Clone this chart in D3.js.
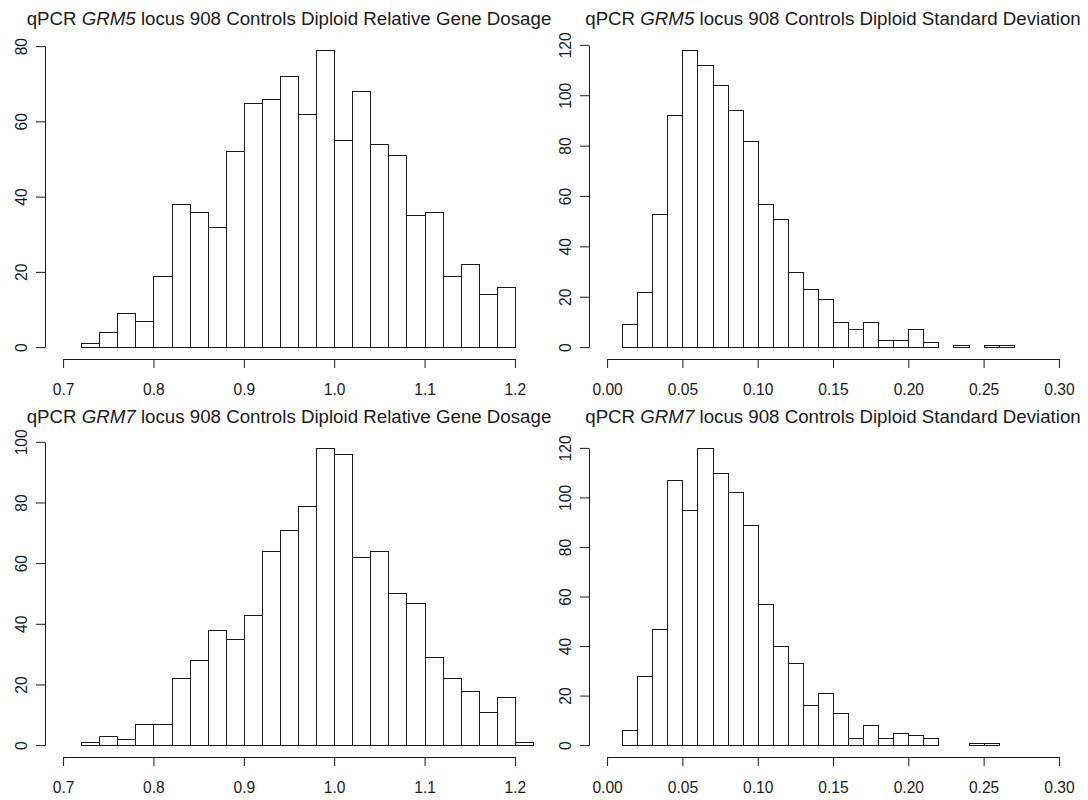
<!DOCTYPE html>
<html>
<head>
<meta charset="utf-8">
<script src="https://cdn.jsdelivr.net/npm/d3@7"></script>
<style>
  body { margin: 0; background: #fff; }
  svg { display: block; font-family: "Liberation Sans", Arial, sans-serif; }
  .tick text { fill: #1a1a1a; }
</style>
</head>
<body>
<script>
// histogram bin breaks (dosage panels share one set, SD panels another)
var dosageBreaks = [0.72, 0.74, 0.76, 0.78, 0.80, 0.82, 0.84, 0.86, 0.88, 0.90, 0.92, 0.94, 0.96,
  0.98, 1.00, 1.02, 1.04, 1.06, 1.08, 1.10, 1.12, 1.14, 1.16, 1.18, 1.20, 1.22];
var sdBreaks = [0.01, 0.02, 0.03, 0.04, 0.05, 0.06, 0.07, 0.08, 0.09, 0.10, 0.11, 0.12, 0.13, 0.14,
  0.15, 0.16, 0.17, 0.18, 0.19, 0.20, 0.21, 0.22, 0.23, 0.24, 0.25, 0.26, 0.27, 0.28, 0.29, 0.30,
  0.31, 0.32];

// counts
var grm5Dosage = [1, 4, 9, 7, 19, 38, 36, 32, 52, 65, 66, 72, 62, 79, 55, 68, 54, 51, 35, 36, 19, 22, 14, 16, 0];
var grm7Dosage = [1, 3, 2, 7, 7, 22, 28, 38, 35, 43, 64, 71, 79, 98, 96, 62, 64, 50, 47, 29, 22, 18, 11, 16, 1];
var grm5SD = [9, 22, 53, 92, 118, 112, 104, 94, 82, 57, 51, 30, 23, 19, 10, 7, 10, 3, 3, 7, 2, 0, 1, 0, 1, 1,
  0, 0, 0, 0, 0];
var grm7SD = [6, 28, 47, 107, 95, 120, 110, 102, 89, 57, 40, 33, 16, 21, 13, 3, 8, 3, 5, 4, 3, 0, 0, 1, 1, 0,
  0, 0, 0, 0, 0];

// tick values / labels
var dosageTicks = [0.7, 0.8, 0.9, 1.0, 1.1, 1.2];
var dosageLabels = ["0.7", "0.8", "0.9", "1.0", "1.1", "1.2"];
var sdTicks = [0, 0.05, 0.10, 0.15, 0.20, 0.25, 0.30];
var sdLabels = ["0.00", "0.05", "0.10", "0.15", "0.20", "0.25", "0.30"];
var yTicks80 = [0, 20, 40, 60, 80];
var yTicks100 = [0, 20, 40, 60, 80, 100];
var yTicks120 = [0, 20, 40, 60, 80, 100, 120];

var panels = [
  { gene: "GRM5", what: "Relative Gene Dosage", breaks: dosageBreaks, counts: grm5Dosage,
    xlim: [0.7, 1.2], xt: dosageTicks, xl: dosageLabels, yt: yTicks80, col: 0, row: 0 },
  { gene: "GRM5", what: "Standard Deviation", breaks: sdBreaks, counts: grm5SD,
    xlim: [0, 0.3], xt: sdTicks, xl: sdLabels, yt: yTicks120, col: 1, row: 0 },
  { gene: "GRM7", what: "Relative Gene Dosage", breaks: dosageBreaks, counts: grm7Dosage,
    xlim: [0.7, 1.2], xt: dosageTicks, xl: dosageLabels, yt: yTicks100, col: 0, row: 1 },
  { gene: "GRM7", what: "Standard Deviation", breaks: sdBreaks, counts: grm7SD,
    xlim: [0, 0.3], xt: sdTicks, xl: sdLabels, yt: yTicks120, col: 1, row: 1 }
];

// page and plot region inside each panel
var W = 1088, H = 800;
var panelW = 544, rowStep = 398;
var plot = { left: 45, right: 533, top: 38, bottom: 359 };
var ink = "#1a1a1a";

var svg = d3.select("body")
  .append("svg")
  .attr("width", W)
  .attr("height", H);

panels.forEach(function (p, i) {
  var g = svg.append("g")
    .attr("transform", "translate(" + p.col * panelW + "," + p.row * rowStep + ")");

  // R style 4% padding on both axes
  var span = p.xlim[1] - p.xlim[0];
  var x = d3.scaleLinear()
    .domain([p.xlim[0] - 0.04 * span, p.xlim[1] + 0.04 * span])
    .range([plot.left, plot.right]);
  var M = d3.max(p.counts);
  var y = d3.scaleLinear()
    .domain([-0.04 * M, 1.04 * M])
    .range([plot.bottom, plot.top]);

  // clip bins that run past the plot region
  g.append("clipPath")
    .attr("id", "clip" + i)
    .append("rect")
    .attr("x", plot.left - 1)
    .attr("y", plot.top - 2)
    .attr("width", plot.right - plot.left + 2)
    .attr("height", plot.bottom - plot.top + 4);

  var bins = p.counts.map(function (c, k) {
    return { x0: p.breaks[k], x1: p.breaks[k + 1], n: c };
  });

  g.append("g")
    .attr("clip-path", "url(#clip" + i + ")")
    .selectAll("rect")
    .data(bins)
    .enter()
    .append("rect")
    .attr("x", function (d) { return Math.round(x(d.x0)) + 0.5; })
    .attr("y", function (d) { return Math.round(y(d.n)) + 0.5; })
    .attr("width", function (d) { return Math.round(x(d.x1)) - Math.round(x(d.x0)); })
    .attr("height", function (d) { return Math.round(y(0)) - Math.round(y(d.n)); })
    .attr("fill", "#fff")
    .attr("stroke", ink)
    .attr("stroke-width", 1);

  // x axis: line only between first and last tick
  var xa = g.append("g")
    .attr("transform", "translate(0," + plot.bottom + ")")
    .call(d3.axisBottom(x)
      .tickValues(p.xt)
      .tickFormat(function (d, k) { return p.xl[k]; })
      .tickSizeInner(9)
      .tickSizeOuter(0)
      .tickPadding(16));
  xa.select(".domain")
    .attr("d", "M" + (Math.round(x(p.xt[0])) + 0.5) + ",0.5H" + (Math.round(x(p.xt[p.xt.length - 1])) + 0.5));
  xa.selectAll(".tick line").attr("stroke", ink);
  xa.select(".domain").attr("stroke", ink);
  xa.selectAll("text").style("font-size", "15.6px").attr("fill", ink);

  // y axis with rotated labels
  var ya = g.append("g")
    .attr("transform", "translate(" + plot.left + ",0)")
    .call(d3.axisLeft(y)
      .tickValues(p.yt)
      .tickSizeInner(9)
      .tickSizeOuter(0));
  ya.select(".domain")
    .attr("d", "M0.5," + (Math.round(y(p.yt[0])) + 0.5) + "V" + (Math.round(y(p.yt[p.yt.length - 1])) + 0.5))
    .attr("stroke", ink);
  ya.selectAll(".tick line").attr("stroke", ink);
  ya.selectAll("text")
    .attr("x", null)
    .attr("dy", null)
    .attr("text-anchor", "middle")
    .attr("transform", "translate(-18,0) rotate(-90)")
    .style("font-size", "15.6px")
    .attr("fill", ink);

  // title with italic gene symbol
  var t = g.append("text")
    .attr("x", (plot.left + plot.right) / 2)
    .attr("y", 25)
    .attr("text-anchor", "middle")
    .style("font-size", "18.7px")
    .attr("fill", ink);
  t.append("tspan").text("qPCR ");
  t.append("tspan").style("font-style", "italic").text(p.gene);
  t.append("tspan").text(" locus 908 Controls Diploid " + p.what);
});
</script>
</body>
</html>
